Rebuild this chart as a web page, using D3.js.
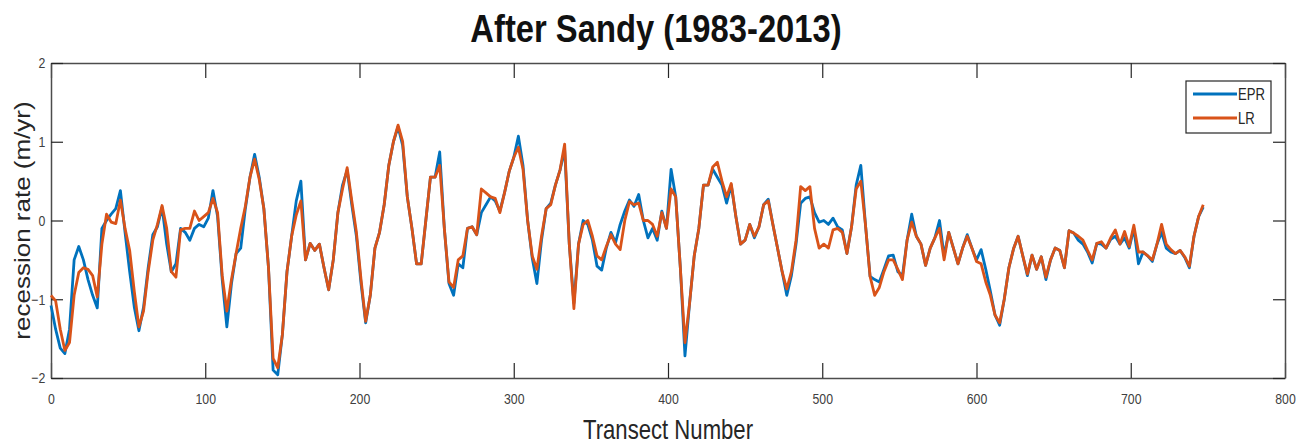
<!DOCTYPE html>
<html>
<head>
<meta charset="utf-8">
<script src="https://cdn.jsdelivr.net/npm/d3@7"></script>
<style>
  body { margin: 0; background: #fff; }
  svg { display: block; }
  text { font-family: "Liberation Sans", Arial, sans-serif; }
</style>
</head>
<body>
<svg></svg>
<script>
// Chart values, one value every 3 transects
let transects = d3.range(0, 750, 3);

let eprRate = [
  -1.08, -1.38, -1.62, -1.69, -1.38, -0.50, -0.33, -0.50, -0.75, -0.95,
  -1.11, -0.10, 0.00, 0.08, 0.15, 0.38, -0.15, -0.65, -1.10, -1.40,
  -1.10, -0.60, -0.18, -0.08, 0.17, -0.30, -0.65, -0.55, -0.10, -0.15,
  -0.25, -0.10, -0.05, -0.08, 0.03, 0.38, 0.05, -0.75, -1.35, -0.80,
  -0.42, -0.35, 0.15, 0.55, 0.84, 0.55, 0.15, -0.60, -1.90, -1.96,
  -1.45, -0.65, -0.20, 0.25, 0.50, -0.50, -0.29, -0.38, -0.30, -0.60,
  -0.88, -0.50, 0.10, 0.45, 0.64, 0.20, -0.20, -0.80, -1.30, -0.95,
  -0.35, -0.15, 0.20, 0.70, 1.00, 1.19, 0.95, 0.30, -0.10, -0.55,
  -0.55, 0.00, 0.55, 0.55, 0.87, -0.10, -0.80, -0.95, -0.55, -0.60,
  -0.10, -0.08, -0.18, 0.10, 0.20, 0.30, 0.25, 0.12, 0.35, 0.62,
  0.80, 1.07, 0.70, 0.00, -0.48, -0.80, -0.25, 0.15, 0.22, 0.45,
  0.64, 0.90, -0.30, -1.05, -0.30, 0.00, -0.05, -0.25, -0.58, -0.63,
  -0.35, -0.15, -0.28, -0.05, 0.12, 0.26, 0.18, 0.33, 0.00, -0.22,
  -0.10, -0.25, 0.12, -0.10, 0.65, 0.30, -0.60, -1.72, -1.05, -0.45,
  -0.10, 0.45, 0.45, 0.65, 0.55, 0.45, 0.22, 0.45, 0.05, -0.30,
  -0.25, -0.05, -0.22, -0.08, 0.20, 0.27, -0.05, -0.35, -0.65, -0.95,
  -0.70, -0.30, 0.22, 0.28, 0.30, 0.10, -0.02, 0.00, -0.05, 0.03,
  -0.08, -0.12, -0.42, -0.08, 0.45, 0.70, -0.05, -0.71, -0.75, -0.78,
  -0.62, -0.45, -0.44, -0.65, -0.70, -0.25, 0.08, -0.20, -0.30, -0.57,
  -0.35, -0.22, 0.00, -0.45, -0.15, -0.35, -0.55, -0.35, -0.18, -0.35,
  -0.50, -0.37, -0.62, -0.90, -1.20, -1.33, -1.00, -0.60, -0.36, -0.20,
  -0.45, -0.70, -0.44, -0.62, -0.46, -0.75, -0.50, -0.35, -0.38, -0.60,
  -0.13, -0.16, -0.25, -0.30, -0.40, -0.54, -0.29, -0.30, -0.35, -0.24,
  -0.20, -0.30, -0.22, -0.35, -0.10, -0.55, -0.40, -0.45, -0.52, -0.30,
  -0.15, -0.35, -0.40, -0.42, -0.38, -0.47, -0.60, -0.20, 0.05, 0.17
];

let lrRate = [
  -0.95, -1.02, -1.38, -1.65, -1.55, -0.95, -0.66, -0.60, -0.62, -0.70,
  -0.97, -0.30, 0.08, -0.02, -0.04, 0.26, -0.10, -0.38, -0.90, -1.35,
  -1.15, -0.65, -0.25, -0.05, 0.19, -0.10, -0.65, -0.72, -0.12, -0.10,
  -0.10, 0.12, 0.00, 0.05, 0.10, 0.28, 0.10, -0.70, -1.15, -0.75,
  -0.42, -0.10, 0.18, 0.55, 0.78, 0.52, 0.15, -0.60, -1.75, -1.87,
  -1.45, -0.65, -0.20, 0.07, 0.25, -0.50, -0.29, -0.38, -0.30, -0.60,
  -0.88, -0.50, 0.10, 0.40, 0.67, 0.25, -0.15, -0.75, -1.28, -0.95,
  -0.35, -0.15, 0.20, 0.70, 1.00, 1.21, 1.00, 0.30, -0.10, -0.55,
  -0.55, 0.00, 0.55, 0.55, 0.70, -0.10, -0.78, -0.85, -0.50, -0.45,
  -0.10, -0.08, -0.18, 0.40, 0.35, 0.30, 0.28, 0.10, 0.35, 0.62,
  0.80, 0.93, 0.65, 0.00, -0.45, -0.62, -0.20, 0.15, 0.20, 0.45,
  0.64, 0.97, -0.30, -1.12, -0.30, -0.05, 0.00, -0.20, -0.45, -0.50,
  -0.33, -0.18, -0.30, -0.37, 0.00, 0.24, 0.20, 0.22, 0.00, 0.00,
  -0.05, -0.20, 0.10, -0.10, 0.40, 0.30, -0.60, -1.55, -1.05, -0.45,
  -0.10, 0.45, 0.45, 0.68, 0.74, 0.50, 0.30, 0.47, 0.05, -0.30,
  -0.25, -0.05, -0.20, -0.08, 0.20, 0.25, -0.05, -0.35, -0.65, -0.87,
  -0.65, -0.25, 0.43, 0.38, 0.43, -0.10, -0.35, -0.30, -0.35, -0.12,
  -0.10, -0.15, -0.42, -0.08, 0.40, 0.50, -0.05, -0.71, -0.95, -0.85,
  -0.65, -0.50, -0.50, -0.62, -0.75, -0.25, -0.02, -0.20, -0.30, -0.57,
  -0.35, -0.22, -0.10, -0.50, -0.15, -0.35, -0.55, -0.35, -0.20, -0.35,
  -0.52, -0.55, -0.78, -0.95, -1.20, -1.30, -1.00, -0.60, -0.36, -0.20,
  -0.45, -0.68, -0.44, -0.62, -0.46, -0.72, -0.50, -0.35, -0.38, -0.60,
  -0.13, -0.16, -0.20, -0.25, -0.38, -0.50, -0.29, -0.27, -0.35, -0.22,
  -0.12, -0.30, -0.14, -0.33, -0.06, -0.40, -0.40, -0.45, -0.50, -0.30,
  -0.05, -0.30, -0.37, -0.42, -0.38, -0.46, -0.58, -0.20, 0.05, 0.20
];

let seriesNames = ['EPR', 'LR'];
let seriesColors = ['#0072BD', '#D95319'];
let xTicks = [0, 100, 200, 300, 400, 500, 600, 700, 800];
let yTicks = [-2, -1, 0, 1, 2];

// SVG dimensions
let width = 1311, height = 448;
let margin = { left: 51, right: 26, top: 63, bottom: 70 };

// the original picture is squeezed sideways, so every text is narrowed
let squeeze = 0.82;

let svg = d3.select('svg')
    .attr('width', width)
    .attr('height', height);

let x = d3.scaleLinear().domain([0, 800]).range([margin.left, width - margin.right]);
let y = d3.scaleLinear().domain([-2, 2]).range([height - margin.bottom, margin.top]);

let axisColor = '#4d4d4d';
let tickColor = '#262626';

// Axes (ticks point inside the box, like MATLAB)
svg.append('g')
    .attr('transform', `translate(0,${y(-2)})`)
    .call(d3.axisBottom(x).tickValues(xTicks).tickSizeInner(-15).tickSizeOuter(0).tickPadding(15));

svg.append('g')
    .attr('transform', `translate(0,${y(2)})`)
    .call(d3.axisTop(x).tickValues(xTicks).tickSizeInner(-15).tickSizeOuter(0).tickFormat(''));

svg.append('g')
    .attr('transform', `translate(${x(0)},0)`)
    .call(d3.axisLeft(y).tickValues(yTicks).tickFormat(d3.format('d'))
        .tickSizeInner(-12).tickSizeOuter(0).tickPadding(7));

svg.append('g')
    .attr('transform', `translate(${x(800)},0)`)
    .call(d3.axisRight(y).tickValues(yTicks).tickSizeInner(-12).tickSizeOuter(0).tickFormat(''));

svg.selectAll('.domain').attr('stroke', axisColor).attr('stroke-width', 1.5);
svg.selectAll('.tick line').attr('stroke', tickColor).attr('stroke-width', 1.2);
svg.selectAll('.tick text')
    .attr('fill', '#404040')
    .attr('transform', `scale(${squeeze},1)`)
    .style('font-size', '15px');

// The two rate lines
let line = d3.line()
    .x((d, i) => x(transects[i]))
    .y((d) => y(d));

[eprRate, lrRate].forEach((values, k) => {
    svg.append('path')
        .datum(values)
        .attr('fill', 'none')
        .attr('stroke', seriesColors[k])
        .attr('stroke-width', 2.8)
        .attr('stroke-linejoin', 'round')
        .attr('d', line);
});

// Title and axis labels
svg.append('text')
    .attr('transform', `translate(656,42) scale(0.84,1)`)
    .attr('text-anchor', 'middle')
    .style('font-size', '39px')
    .style('font-weight', 'bold')
    .attr('fill', '#111')
    .text('After Sandy (1983-2013)');

svg.append('text')
    .attr('transform', `translate(${x(400)},439) scale(${squeeze},1)`)
    .attr('text-anchor', 'middle')
    .style('font-size', '27px')
    .attr('fill', '#262626')
    .text('Transect Number');

svg.append('text')
    .attr('transform', `translate(30,${y(0)}) rotate(-90) scale(1,${squeeze})`)
    .attr('text-anchor', 'middle')
    .style('font-size', '26px')
    .attr('fill', '#262626')
    .text('recession rate (m/yr)');

// Legend
let legend = svg.append('g').attr('transform', 'translate(1186,81)');
legend.append('rect')
    .attr('width', 85).attr('height', 52)
    .attr('fill', '#fff')
    .attr('stroke', '#262626')
    .attr('stroke-width', 1.2);

seriesNames.forEach((name, k) => {
    let ly = 13 + k * 24;
    legend.append('line')
        .attr('x1', 7).attr('x2', 51)
        .attr('y1', ly).attr('y2', ly)
        .attr('stroke', seriesColors[k])
        .attr('stroke-width', 2.8);
    legend.append('text')
        .attr('transform', `translate(52,${ly + 6}) scale(${squeeze},1)`)
        .style('font-size', '16px')
        .attr('fill', '#262626')
        .text(name);
});
</script>
</body>
</html>
